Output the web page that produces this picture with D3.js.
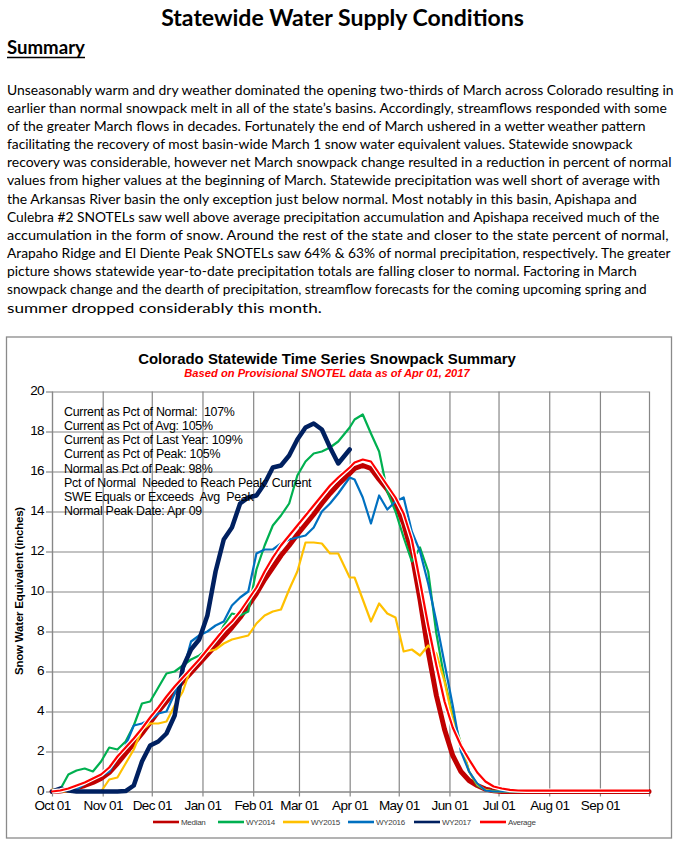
<!DOCTYPE html>
<html>
<head>
<meta charset="utf-8">
<script src="https://cdn.jsdelivr.net/npm/d3@7"></script>
<style>
  body { margin: 0; background: #fff; }
  svg { display: block; }
</style>
</head>
<body>
<div id="chart"></div>
<script>
// Textos de la página
const pageTitle = "Statewide Water Supply Conditions";
const sectionTitle = "Summary";
const summaryLines = [
  "Unseasonably warm and dry weather dominated the opening two-thirds of March across Colorado resulting in",
  "earlier than normal snowpack melt in all of the state\u2019s basins. Accordingly, streamflows responded with some",
  "of the greater March flows in decades. Fortunately the end of March ushered in a wetter weather pattern",
  "facilitating the recovery of most basin-wide March 1 snow water equivalent values. Statewide snowpack",
  "recovery was considerable, however net March snowpack change resulted in a reduction in percent of normal",
  "values from higher values at the beginning of March. Statewide precipitation was well short of average with",
  "the Arkansas River basin the only exception just below normal. Most notably in this basin, Apishapa and",
  "Culebra #2 SNOTELs saw well above average precipitation accumulation and Apishapa received much of the",
  "accumulation in the form of snow. Around the rest of the state and closer to the state percent of normal,",
  "Arapaho Ridge and El Diente Peak SNOTELs saw 64% & 63% of normal precipitation, respectively. The greater",
  "picture shows statewide year-to-date precipitation totals are falling closer to normal. Factoring in March",
  "snowpack change and the dearth of precipitation, streamflow forecasts for the coming upcoming spring and",
  "summer dropped considerably this month."
];
// extremo derecho de cada renglón en la imagen (px)
const summaryRightEdge = [674, 667, 646, 633, 672, 661, 637, 660, 669, 671, 637, 647, 322];

const chartTitle = "Colorado Statewide Time Series Snowpack Summary";
const chartSubtitle = "Based on Provisional SNOTEL data as of Apr 01, 2017";
const yTitle = "Snow Water Equivalent (inches)";
const statLines = [
  "Current as Pct of Normal:  107%",
  "Current as Pct of Avg: 105%",
  "Current as Pct of Last Year: 109%",
  "Current as Pct of Peak: 105%",
  "Normal as Pct of Peak: 98%",
  "Pct of Normal  Needed to Reach Peak: Current",
  "SWE Equals or Exceeds  Avg  Peak",
  "Normal Peak Date: Apr 09"
];

// Ejes: día del año hidrológico (0 = 1 de octubre)
const monthDays = [0, 31, 61, 92, 123, 151, 182, 212, 243, 273, 304, 335, 365];
const monthLabels = ["Oct 01", "Nov 01", "Dec 01", "Jan 01", "Feb 01", "Mar 01", "Apr 01",
                     "May 01", "Jun 01", "Jul 01", "Aug 01", "Sep 01", ""];
const sweTicks = [0, 2, 4, 6, 8, 10, 12, 14, 16, 18, 20];

// Series (pulgadas de SWE)
const days = [0, 5, 10, 15, 20, 25, 30, 35, 40, 45, 50, 55, 60, 65, 70, 75, 80, 85, 90, 95,
  100, 105, 110, 115, 120, 125, 130, 135, 140, 145, 150, 155, 160, 165, 170, 175, 182,
  185, 190, 195, 200, 205, 210, 215, 220, 225, 230, 235, 240, 245, 250, 255, 260, 265,
  270, 275, 280, 285, 290, 295, 300, 305, 310, 315, 320, 325, 330, 335, 340, 345, 350,
  355, 360, 365];

const median = [0, 0.02, 0.08, 0.18, 0.3, 0.45, 0.65, 0.95, 1.4, 1.9, 2.4, 2.9, 3.45, 4.0,
  4.5, 5.0, 5.5, 5.95, 6.4, 6.85, 7.3, 7.75, 8.2, 8.7, 9.3, 9.9, 10.6, 11.2, 11.8, 12.3,
  12.85, 13.35, 13.85, 14.4, 14.9, 15.35, 15.9, 16.15, 16.3, 16.15, 15.6, 15.1, 14.4,
  13.4, 11.9, 9.6, 7.0, 4.8, 3.1, 1.8, 1.0, 0.55, 0.3, 0.12, 0.04, 0, 0, 0, 0, 0, 0, 0,
  0, 0, 0, 0, 0, 0, 0, 0, 0, 0, 0, 0];

const wy2014 = [0, 0.1, 0.85, 1.05, 1.15, 1.0, 1.5, 2.2, 2.1, 2.5, 3.3, 4.4, 4.5, 5.2,
  5.9, 6.0, 6.3, 6.6, 6.8, 7.1, 7.5, 8.3, 8.9, 8.8, 9.0, 11.1, 12.3, 13.3, 13.8, 14.4,
  15.8, 16.5, 16.9, 17.0, 17.2, 17.5, 18.2, 18.6, 18.85, 17.9, 17.0, 15.0, 14.0, 12.7,
  11.5, 12.2, 11.0, 7.9, 5.6, 3.8, 2.4, 1.0, 0.3, 0.08, 0.02, 0, 0, 0, 0, 0, 0, 0, 0,
  0, 0, 0, 0, 0, 0, 0, 0, 0, 0, 0];

const wy2015 = [0.1, 0, 0, 0, 0, 0, 0, 0.6, 0.7, 1.4, 2.1, 3.1, 3.4, 3.4, 3.5, 4.3, 5.0,
  6.2, 6.6, 7.0, 7.1, 7.4, 7.6, 7.7, 7.8, 8.4, 8.8, 9.0, 9.1, 10.1, 11.0, 12.45, 12.45,
  12.4, 11.9, 11.9, 10.7, 10.7, 9.6, 8.5, 9.4, 8.9, 8.7, 7.0, 7.1, 6.8, 7.3, 6.9, 5.5,
  3.6, 2.4, 1.0, 0.35, 0.08, 0, 0, 0, 0, 0, 0, 0, 0, 0, 0, 0, 0, 0, 0, 0, 0, 0, 0, 0, 0];

const wy2016 = [0, 0, 0.05, 0.1, 0.4, 0.7, 0.8, 1.0, 1.7, 2.3, 3.3, 3.4, 3.6, 3.9, 4.0,
  4.9, 6.0, 7.5, 7.8, 8.0, 8.3, 8.5, 9.3, 9.7, 10.0, 11.9, 12.1, 12.1, 12.4, 12.6, 12.7,
  12.8, 13.2, 14.0, 14.4, 14.9, 15.7, 15.6, 14.7, 13.4, 14.8, 14.1, 14.5, 14.7, 13.0,
  12.0, 10.4, 8.5, 6.4, 4.3, 2.0, 1.0, 0.4, 0.05, 0, 0, 0, 0, 0, 0, 0, 0, 0, 0, 0, 0,
  0, 0, 0, 0, 0, 0, 0, 0];

const wy2017 = [0, 0.15, 0.05, 0, 0, 0, 0, 0, 0, 0.02, 0.3, 1.5, 2.3, 2.5, 2.9, 3.8, 6.2,
  7.1, 7.6, 8.8, 11.0, 12.6, 13.2, 14.4, 14.7, 14.8, 15.4, 16.2, 16.3, 16.8, 17.6, 18.2,
  18.4, 18.1, 17.2, 16.4, 17.1];

const average = [0, 0.05, 0.15, 0.3, 0.45, 0.65, 0.85, 1.2, 1.75, 2.2, 2.65, 3.15, 3.7,
  4.2, 4.75, 5.25, 5.7, 6.15, 6.6, 7.1, 7.6, 8.1, 8.5, 9.0, 9.6, 10.2, 11.0, 11.7, 12.3,
  12.8, 13.3, 13.8, 14.3, 14.8, 15.3, 15.7, 16.2, 16.45, 16.6, 16.5, 15.9, 15.3, 14.7,
  13.9, 12.6, 10.5, 8.3, 6.3, 4.5, 3.2, 2.3, 1.6, 0.95, 0.5, 0.25, 0.15, 0.08, 0.05,
  0.04, 0.04, 0.04, 0.04, 0.04, 0.04, 0.04, 0.04, 0.04, 0.04, 0.04, 0.04, 0.04, 0.04,
  0.04, 0.04];

const seriesNames = ["Median", "WY2014", "WY2015", "WY2016", "WY2017", "Average"];
const seriesValues = [median, wy2014, wy2015, wy2016, wy2017, average];
const seriesColors = ["#C00000", "#00B050", "#FFC000", "#0070C0", "#002060", "#FF0000"];
const seriesWidths = [5, 2.2, 2.2, 2.2, 4.5, 2.2];

// Lienzo
const W = 678, H = 844;
const svg = d3.select("#chart")
  .append("svg")
  .attr("width", W)
  .attr("height", H);

// Ajusta el ancho de un texto escalándolo en horizontal
function fitWidth(sel, target, x, y, anchor) {
  const len = sel.node().getComputedTextLength();
  const sx = target / len;
  sel.attr("x", 0).attr("y", 0)
    .attr("transform", `translate(${x},${y}) scale(${sx},1)`);
  if (anchor) sel.attr("text-anchor", anchor);
  return sel;
}

// Encabezado de la página
fitWidth(svg.append("text")
  .style("font-family", "Lato, sans-serif")
  .style("font-weight", "bold")
  .style("font-size", "22px")
  .text(pageTitle), 363, 342.5, 26, "middle");

fitWidth(svg.append("text")
  .style("font-family", "Lato, sans-serif")
  .style("font-weight", "bold")
  .style("font-size", "18px")
  .text(sectionTitle), 78, 7, 54);

svg.append("line")
  .attr("x1", 7).attr("x2", 85)
  .attr("y1", 57.5).attr("y2", 57.5)
  .attr("stroke", "#000")
  .attr("stroke-width", 1.4);

// Párrafo
const para = svg.append("g");
summaryLines.forEach((txt, i) => {
  fitWidth(para.append("text")
    .style("font-family", "Lato, sans-serif")
    .style("font-size", "14.3px")
    .text(txt), summaryRightEdge[i] - 7, 7, 94.5 + i * 18.17);
});

// Marco del gráfico
svg.append("rect")
  .attr("x", 6.5)
  .attr("y", 337)
  .attr("width", 665)
  .attr("height", 501)
  .attr("fill", "none")
  .attr("stroke", "#8a8a8a")
  .attr("stroke-width", 1.3);

const chartFont = "'Liberation Sans', Arial, sans-serif";

fitWidth(svg.append("text")
  .style("font-family", chartFont)
  .style("font-weight", "bold")
  .style("font-size", "15px")
  .text(chartTitle), 378, 327, 364, "middle");

fitWidth(svg.append("text")
  .style("font-family", chartFont)
  .style("font-weight", "bold")
  .style("font-style", "italic")
  .style("font-size", "10.5px")
  .attr("fill", "#FF0000")
  .text(chartSubtitle), 286, 327, 377, "middle");

// Escalas
const x = d3.scaleLinear().domain([0, 365]).range([52, 649]);
const y = d3.scaleLinear().domain([0, 20]).range([791.5, 391.5]);
const plotW = x.range()[1] - x.range()[0];
const plotH = y.range()[0] - y.range()[1];

// Cuadrícula
const gridX = svg.append("g")
  .attr("transform", `translate(0,${y(0)})`)
  .call(d3.axisBottom(x).tickValues(monthDays).tickSize(-plotH).tickFormat(""));
const gridY = svg.append("g")
  .attr("transform", `translate(${x(0)},0)`)
  .call(d3.axisLeft(y).tickValues(sweTicks).tickSize(-plotW).tickFormat(""));
[gridX, gridY].forEach(g => {
  g.select(".domain").remove();
  g.selectAll("line").attr("stroke", "#878787").attr("stroke-width", 1.2);
});

// Ejes con etiquetas
const xAxis = svg.append("g")
  .attr("transform", `translate(0,${y(0)})`)
  .call(d3.axisBottom(x)
    .tickValues(monthDays)
    .tickSize(5)
    .tickSizeOuter(0)
    .tickPadding(4)
    .tickFormat((d, i) => monthLabels[i]));
const yAxis = svg.append("g")
  .attr("transform", `translate(${x(0)},0)`)
  .call(d3.axisLeft(y)
    .tickValues(sweTicks)
    .tickSize(6)
    .tickSizeOuter(0)
    .tickPadding(2));
[xAxis, yAxis].forEach(g => {
  g.select(".domain").attr("stroke", "#878787").attr("stroke-width", 1.2);
  g.selectAll("line").attr("stroke", "#878787").attr("stroke-width", 1.2);
  g.selectAll("text")
    .attr("fill", "#000")
    .style("font-family", chartFont)
    .style("font-size", "13.5px")
    .style("letter-spacing", "-0.6px");
});
yAxis.selectAll("text").attr("dy", "0.2em");

svg.append("text")
  .attr("transform", "translate(23,591) rotate(-90)")
  .attr("text-anchor", "middle")
  .style("font-family", chartFont)
  .style("font-weight", "bold")
  .style("font-size", "11.5px")
  .style("letter-spacing", "-0.2px")
  .text(yTitle);

// Líneas de las series
const line = d3.line()
  .x((d, i) => x(days[i]))
  .y(d => y(d));

seriesValues.forEach((vals, k) => {
  if (seriesNames[k] === "Average") {
    svg.append("path")
      .attr("d", line(vals))
      .attr("fill", "none")
      .attr("stroke", "#fff")
      .attr("stroke-width", 4.6)
      .attr("stroke-linejoin", "round");
  }
  svg.append("path")
    .attr("d", line(vals))
    .attr("fill", "none")
    .attr("stroke", seriesColors[k])
    .attr("stroke-width", seriesWidths[k])
    .attr("stroke-linejoin", "round")
    .attr("stroke-linecap", "round");
});

// Cuadro de estadísticas
svg.append("g")
  .selectAll("text")
  .data(statLines)
  .join("text")
  .attr("x", 64)
  .attr("y", (d, i) => 415.5 + i * 14.25)
  .attr("xml:space", "preserve")
  .style("white-space", "pre")
  .style("font-family", chartFont)
  .style("font-size", "12.4px")
  .style("letter-spacing", "-0.25px")
  .text(d => d);

// Leyenda
const legendX = [153, 218, 283, 348, 414, 480];
const legend = svg.append("g")
  .selectAll("g")
  .data(seriesNames)
  .join("g")
  .attr("transform", (d, i) => `translate(${legendX[i]},822)`);
legend.append("line")
  .attr("x1", 0).attr("x2", 26)
  .attr("stroke", (d, i) => seriesColors[i])
  .attr("stroke-width", 2.6);
legend.append("text")
  .attr("x", 28)
  .attr("y", 3)
  .style("font-family", chartFont)
  .style("font-size", "8px")
  .style("letter-spacing", "-0.3px")
  .attr("fill", "#404040")
  .text(d => d);
</script>
</body>
</html>
